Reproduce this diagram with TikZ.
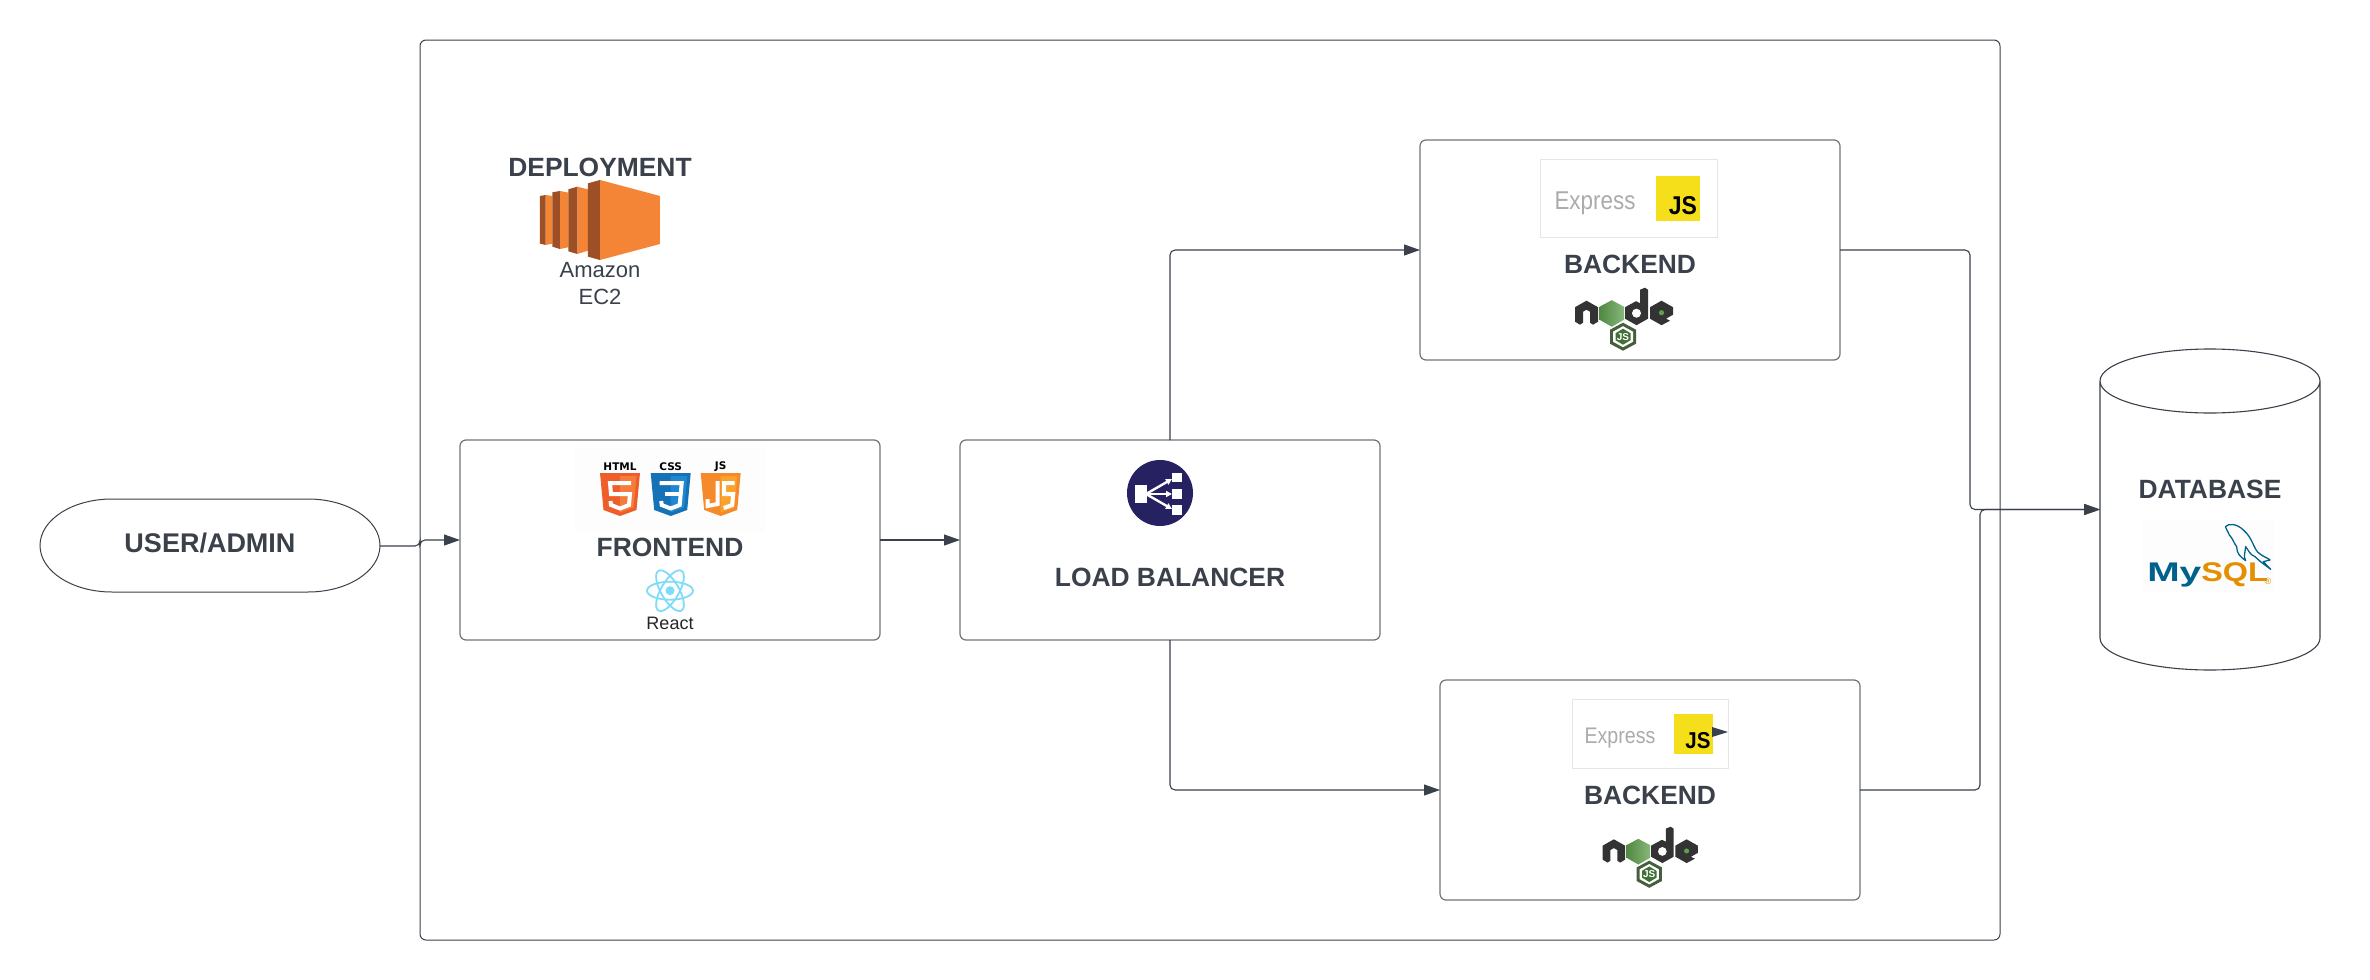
\documentclass[tikz,border=0pt]{standalone}
\usepackage{fontspec}
\setmainfont{Liberation Sans}
\newfontfamily\dejavu{DejaVu Sans}
\usetikzlibrary{arrows.meta,calc}
\definecolor{ink}{HTML}{3A414A}
\definecolor{edge}{HTML}{6F747B}
\definecolor{ecdark}{HTML}{9D5025}
\definecolor{ecor}{HTML}{F58536}
\definecolor{nodedark}{HTML}{333333}
\definecolor{nodegreen}{HTML}{5FA04E}
\definecolor{mysqlblue}{HTML}{00618A}
\definecolor{mysqlorange}{HTML}{E48E00}
\definecolor{jsyellow}{HTML}{F5DF1B}
\definecolor{htmla}{HTML}{EF5E2A}
\definecolor{htmlb}{HTML}{F47C3C}
\definecolor{cssa}{HTML}{1572B6}
\definecolor{cssb}{HTML}{1F88CF}
\definecolor{jsa}{HTML}{F68A2A}
\definecolor{jsb}{HTML}{FBA22E}
\definecolor{reactc}{HTML}{7FDCF8}
\definecolor{lbc}{HTML}{262262}
\definecolor{paper}{HTML}{FDFDFD}
\newcommand{\fs}[1]{\fontsize{#1}{#1}\selectfont}
\tikzset{
  box/.style={draw=edge,line width=1.2pt,rounded corners=6pt,fill=white,inner sep=0pt,outer sep=0pt},
  conn/.style={draw=ink,line width=1.1pt,rounded corners=5pt,-{Triangle[length=16pt,width=11pt,fill=ink]}},
  title/.style={text=ink,font=\fs{26.4}\bfseries,inner sep=0pt},
  small/.style={text=ink,font=\fs{22},inner sep=0pt},
  shieldtag/.style={text=black,font=\fs{10.5}\dejavu\bfseries,inner sep=0pt},
  glyph/.style={draw=white,line width=4pt,line join=miter,line cap=butt},
  expresstext/.style={text=black!33,inner sep=0pt,yscale=1.15,transform shape},
  jstext/.style={text=black,inner sep=0pt,yscale=1.12,transform shape},
}
% shield: centre x, top y, dark, light
\newcommand{\shield}[4]{%
  \fill[#3] (#1-20,#2) -- (#1+20,#2) -- (#1+16.5,#2+37) -- (#1,#2+43) -- (#1-16.5,#2+37) -- cycle;
  \fill[#4] (#1,#2+3) -- (#1+16.5,#2+3) -- (#1+13.5,#2+34.5) -- (#1,#2+39.5) -- cycle;
}
% node.js logo, origin top-left of the word
\newcommand{\nodelogo}[3]{%
\begin{scope}[shift={(#1,#2)},x=#3pt,y=-#3pt]
  \fill[nodedark] (0,19.5)--(11.5,13)--(23,19.5)--(23,34)--(18,37)--(15,35)--(15,24)--(11.5,22)--(8,24)--(8,35)--(5,37)--(0,34)--cycle;
  \shade[left color=nodegreen!85!black,right color=nodegreen!75!white] (24.5,19)--(36.7,12.5)--(49,19)--(49,32)--(36.7,39)--(24.5,32)--cycle;
  \fill[nodedark] (50,19.5)--(61,13.5)--(65,15.5)--(65,2)--(70,0)--(73,2)--(73,31)--(61.5,37.5)--(50,31)--cycle;
  \fill[white] (61.5,25.5) circle[radius=4.5];
  \fill[nodedark] (75,19.5)--(86.5,13)--(98,19.5)--(98,27)--(91,31)--(95,33)--(86.5,37.5)--(75,31)--cycle;
  \fill[nodegreen] (86.5,25) circle[radius=2.6];
  \fill[nodedark!60!nodegreen] (48,35)--(61,42)--(61,56)--(48,63)--(35,56)--(35,42)--cycle;
  \fill[white] (48,38.5)--(58,44)--(58,54)--(48,59.5)--(38,54)--(38,44)--cycle;
  \fill[nodegreen!70!black] (48,41)--(55.5,45.5)--(55.5,52.5)--(48,57)--(40.5,52.5)--(40.5,45.5)--cycle;
  \node[inner sep=0pt,text=white,font=\fs{10}\bfseries] at (48,49) {JS};
\end{scope}}
\begin{document}
\begin{tikzpicture}[x=1pt,y=-1pt]
\useasboundingbox (0,0) rectangle (2370,980);
\fill[white] (0,0) rectangle (2370,980);
% frame
\node[box,anchor=north west,minimum width=1580pt,minimum height=900pt,draw=ink,line width=1pt] (frame) at (420,40) {};
% boxes
\node[anchor=north west,minimum width=340pt,minimum height=93pt,inner sep=0pt,outer sep=0pt] (user) at (40,499) {};
\draw[draw=ink,line width=1pt] ($(user.north west)+(72,0)$) -- ($(user.north east)+(-72,0)$)
  arc[start angle=90,end angle=-90,x radius=72pt,y radius=46.5pt] -- ($(user.south west)+(72,0)$)
  arc[start angle=-90,end angle=-270,x radius=72pt,y radius=46.5pt] -- cycle;
\node[box,anchor=north west,minimum width=420pt,minimum height=200pt] (fe) at (460,440) {};
\node[box,anchor=north west,minimum width=420pt,minimum height=200pt] (lb) at (960,440) {};
\node[box,anchor=north west,minimum width=420pt,minimum height=220pt] (ba) at (1420,140) {};
\node[box,anchor=north west,minimum width=420pt,minimum height=220pt] (bb) at (1440,680) {};
\node[anchor=north west,minimum width=220pt,minimum height=321pt,inner sep=0pt,outer sep=0pt] (db) at (2100,349) {};
% database cylinder
\draw[draw=ink,line width=1.1pt,fill=white]
  ($(db.north west)+(0,32)$) -- ($(db.south west)+(0,-32)$)
  arc[start angle=180,end angle=360,x radius=110pt,y radius=32pt]
  -- ($(db.north east)+(0,32)$)
  arc[start angle=0,end angle=180,x radius=110pt,y radius=32pt]
  arc[start angle=180,end angle=360,x radius=110pt,y radius=32pt];
% titles
\node[title] (tdep) at (600,167) {DEPLOYMENT};
\node[small] (tama) at (600,270) {Amazon};
\node[small] (tec2) at (600,297) {EC2};
\node[title,font=\fs{27}\bfseries] (tuser) at (210,543) {USER/ADMIN};
\node[title] (tfe) at (670,547) {FRONTEND};
\node[title] (tlb) at (1170,577) {LOAD BALANCER};
\node[title] (tba) at (1630,264) {BACKEND};
\node[title] (tbb) at (1650,795) {BACKEND};
\node[title] (tdb) at (2210,489) {DATABASE};
% EC2 icon
\begin{scope}[shift={(480,130)},x=0.3333pt,y=-0.3333pt]
  \fill[ecor] (197,195)--(217,198)--(217,341)--(197,345)--cycle;
  \fill[ecdark] (180,198)--(197,195)--(197,345)--(180,341)--cycle;
  \fill[ecor] (240,183)--(265,188)--(265,352)--(240,357)--cycle;
  \fill[ecdark] (217,187)--(240,183)--(240,357)--(217,350)--cycle;
  \fill[ecor] (292,170)--(324,178)--(324,362)--(292,372)--cycle;
  \fill[ecdark] (265,178)--(292,170)--(292,372)--(265,364)--cycle;
  \fill[ecor] (360,150)--(540,198)--(540,342)--(360,390)--cycle;
  \fill[ecdark] (324,160)--(360,150)--(360,390)--(324,380)--cycle;
\end{scope}
% frontend logos
\fill[paper] (575,447) rectangle (765,532);
\node[shieldtag] (thtml) at (620,467) {HTML};
\node[shieldtag] (tcss) at (670.7,467) {CSS};
\node[shieldtag] (tjs) at (720.7,467) {JS};
\shield{620}{473}{htmla}{htmlb}
\shield{670.7}{473}{cssa}{cssb}
\shield{720.7}{473}{jsa}{jsb}
\begin{scope}[shift={(620,473)}]
  \draw[glyph] (11,10)--(-10,10)--(-9,21)--(10,21)--(9,32)--(0,35.5)--(-9,32)--(-9.5,28);
\end{scope}
\begin{scope}[shift={(670.7,473)}]
  \draw[glyph] (-11,10)--(11,10)--(9,32)--(0,35.5)--(-9,32)--(-9.5,28);
  \draw[glyph] (-6,21)--(10,21);
\end{scope}
\begin{scope}[shift={(720.7,473)}]
  \draw[glyph] (-3,8)--(-3,31)--(-13,33)--(-13,26);
  \draw[glyph] (14,10)--(3.5,10)--(3.5,21)--(12.5,21)--(11.5,32)--(3,35);
\end{scope}
% react
\begin{scope}[shift={(670,590.7)}]
  \foreach \a in {0,60,120}
    \draw[reactc,line width=1.8pt,rotate=\a] (0,0) circle[x radius=23pt,y radius=9pt];
  \fill[reactc] (0,0) circle[radius=4.5pt];
\end{scope}
\node[text=black!85,font=\fs{18},inner sep=0pt] (treact) at (670,623) {React};
% load balancer icon
\fill[lbc] (1160,493) circle[radius=33pt];
\begin{scope}[white,line width=2.4pt]
  \fill (1135,485) rectangle (1147,503);
  \fill (1172,473) rectangle (1182,482);
  \fill (1172,489) rectangle (1182,499);
  \fill (1172,505) rectangle (1182,515);
  \draw[-{Triangle[length=6pt,width=6pt]}] (1146,494) -- (1172,479);
  \draw[-{Triangle[length=6pt,width=6pt]}] (1146,494) -- (1172,494);
  \draw[-{Triangle[length=6pt,width=6pt]}] (1146,494) -- (1172,509);
\end{scope}
% express logos
\draw[black!10,line width=1pt] (1540,159) rectangle (1717,237);
\node[expresstext,font=\fs{22.4}] (tex1) at (1595,203) {Express};
\fill[jsyellow] (1656,176) rectangle (1700,221);
\node[jstext,font=\fs{23}\bfseries] (tjs1) at (1683,206) {JS};
\draw[black!10,line width=1pt] (1572,699) rectangle (1728,768);
\node[expresstext,font=\fs{19.6}] (tex2) at (1620,738) {Express};
\fill[jsyellow] (1674,714) rectangle (1713,754);
\node[jstext,font=\fs{20.5}\bfseries] (tjs2) at (1698,741) {JS};
\fill[ink] (1712,727) -- (1728,732) -- (1712,737) -- cycle;
% node logos
\nodelogo{1575}{287.7}{1}
\nodelogo{1602.7}{826.7}{0.97}
% mysql
\fill[paper] (2143,520) rectangle (2275,592);
\begin{scope}[shift={(2080,330)},x=0.3333pt,y=-0.3333pt]
  \draw[mysqlblue,line width=1.3pt,line join=round]
    (436,590) .. controls (445,580) and (470,580) .. (490,600)
    .. controls (520,625) and (520,660) .. (540,672)
    .. controls (550,680) and (565,685) .. (570,690)
    -- (550,695) -- (572,718) .. controls (555,705) and (540,695) .. (525,680)
    .. controls (510,675) and (505,660) .. (497,650)
    .. controls (495,670) and (490,680) .. (497,692)
    .. controls (480,680) and (470,670) .. (470,650)
    .. controls (462,640) and (458,625) .. (448,615) -- (436,590);
\end{scope}
\node[text=mysqlblue,font=\fs{27}\bfseries,inner sep=0pt,anchor=west,xscale=1.44,transform shape] (tmy) at (2147,575) {My};
\node[text=mysqlorange,font=\fs{27}\bfseries,inner sep=0pt,anchor=west,xscale=1.2,transform shape] (tsql) at (2201,575) {SQL};
\node[text=mysqlorange,font=\fs{9},inner sep=0pt] (treg) at (2268,581) {®};
% connectors
\coordinate (ua) at (420,546);
\coordinate (ub) at (420,540);
\draw[conn] (user.east |- ua) -- (ua) -- (ub) -- (fe.west);
\draw[conn] (fe.east) -- (lb.west);
\draw[conn] (lb.north) |- (ba.west);
\draw[conn] (lb.south) |- (bb.west);
\coordinate (ja) at (1970,509.5);
\coordinate (jb) at (1980,509.5);
\draw[conn] (ba.east) -| (ja) -- (db.west);
\draw[conn] (bb.east) -| (jb) -- (db.west);
\end{tikzpicture}
\end{document}
